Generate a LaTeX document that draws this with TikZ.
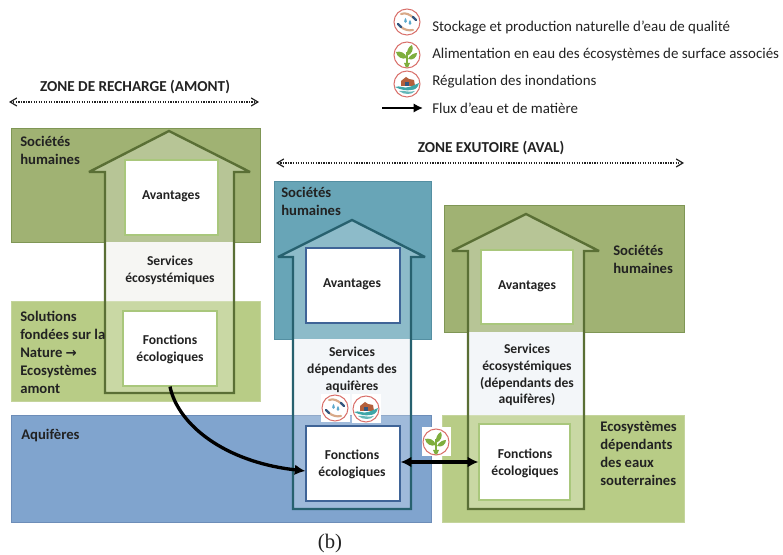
\documentclass[tikz,border=0pt]{standalone}
\usepackage{fontspec}
\setmainfont{Carlito}
\usetikzlibrary{fit,arrows.meta,calc}
\definecolor{gsoc}{HTML}{A0B273}
\definecolor{gsocl}{HTML}{7F9655}
\definecolor{gsol}{HTML}{B8CC86}
\definecolor{gsoll}{HTML}{C4D49C}
\definecolor{blu}{HTML}{80A4CE}
\definecolor{blul}{HTML}{6D8DB8}
\definecolor{tea}{HTML}{68A5B7}
\definecolor{teal2}{HTML}{548FA2}
\definecolor{gdk}{HTML}{5A6F35}
\definecolor{tdk}{HTML}{27616F}
\definecolor{bdk}{HTML}{3F6497}
\definecolor{gbx}{HTML}{A9C77C}
\definecolor{ink}{HTML}{222222}
\definecolor{icred}{HTML}{D9706B}
\definecolor{ictan}{HTML}{D8A988}
\definecolor{icnavy}{HTML}{35577F}
\definecolor{icblue}{HTML}{5CA9CC}
\definecolor{icleaf}{HTML}{7FAE3E}
\definecolor{icbrown}{HTML}{B4603C}
\definecolor{icwave}{HTML}{3FA6A8}
\definecolor{bandA}{HTML}{F3F4EF}
\definecolor{bandB}{HTML}{EFF4F8}
\tikzset{
  x=0.75pt,y=-0.75pt,
  zone/.style={fit={#1},inner sep=0pt,draw,line width=0.7pt},
  soc/.style={fill=gsoc,draw=gsocl},
  sol/.style={fill=gsol,draw=gsoll},
  aqu/.style={fill=blu,draw=blul},
  tealz/.style={fill=tea,draw=teal2},
  whitebox/.style={fit={#1},inner sep=0pt,fill=white,line width=.9pt,draw},
  band/.style={draw=none},
  housearrow/.style={fill=white,fill opacity=0.25,line width=1.8pt,line join=miter,miter limit=4},
  lbl/.style={font=\fontsize{10.2}{12.6}\selectfont\bfseries,text=ink,align=center,inner sep=0pt,yshift=-.8pt},
  lbll/.style={font=\fontsize{11}{13.5}\selectfont\bfseries,text=ink,align=left,inner sep=0pt,anchor=north west,yshift=-1pt},
  legendtxt/.style={font=\fontsize{11.2}{12}\selectfont,text=ink,anchor=west,inner sep=0pt,yshift=-.5pt},
  zonetxt/.style={font=\fontsize{11.4}{12}\selectfont\bfseries,text=ink,inner sep=0pt},
  zonearrow/.style={{Straight Barb[length=5pt,width=6pt,line width=.9pt]}-{Straight Barb[length=5pt,width=6pt,line width=.9pt]},densely dotted,line width=.9pt,draw=ink},
  flow/.style={-{Latex[length=8pt,width=8pt]},line width=2.5pt,black},
  flowb/.style={{Latex[length=8pt,width=8pt]}-{Latex[length=8pt,width=8pt]},line width=2.5pt,black},
  ring/.style={draw=icred,line width=.75pt,fill=white},
  pics/icwater/.style={code={
    \fill[white] (-14.5,-13.5) rectangle (14.5,14.5);
    \draw[ring] (0,0) circle (13);
    \draw[ictan,line width=1.6pt,line cap=round] (-6,-8) .. controls (-1,-10) and (3,-7) .. (7,-4);
    \draw[ictan,line width=1.6pt,line cap=round] (-7,4) .. controls (-3,8) and (2,9) .. (6,8);
    \draw[icnavy,line width=1.8pt,line cap=round] (6,-5) -- (9,-2);
    \draw[icnavy,line width=1.8pt,line cap=round] (-9,2) -- (-6,5);
    \fill[icblue] (-1.5,-4) .. controls (-3.5,-1) and (-3,1) .. (-1.5,1) .. controls (0,1) and (.5,-1) .. (-1.5,-4);
    \fill[icblue] (3,-2) .. controls (1,1) and (1.5,3) .. (3,3) .. controls (4.5,3) and (5,1) .. (3,-2);
  }},
  pics/icleafp/.style={code={
    \fill[white] (-14.5,-14.5) rectangle (14.5,14.5);
    \draw[ring] (0,0) circle (13);
    \draw[icleaf,line width=1.2pt] (0,11) -- (0,-3);
    \fill[icleaf] (-3,8) -- (3,8) -- (1,12.5) -- (-1,12.5) -- cycle;
    \fill[icleaf] (0,3) .. controls (-2,-3) and (-7,-4) .. (-11,-3) .. controls (-10,2) and (-5,5) .. (0,3);
    \fill[icleaf] (0,1) .. controls (-1,-4) and (2,-9) .. (5,-10) .. controls (7,-6) and (5,-1) .. (0,1);
    \fill[icleaf] (1,4) .. controls (3,0) and (7,-2) .. (10,-2) .. controls (10,2) and (6,6) .. (1,4);
  }},
  pics/icflood/.style={code={
    \fill[white] (-14.5,-14.5) rectangle (14.5,14.5);
    \draw[ring] (0,0) circle (13);
    \fill[icbrown] (-6,2) -- (-6,-3) -- (-1,-7) -- (2,-5) -- (7,-4) -- (8,2) -- cycle;
    \fill[icnavy] (-2,2) rectangle (2,-2);
    \fill[icwave] (-12,3) .. controls (-7,1) and (-3,5) .. (2,3) .. controls (6,2) and (9,0) .. (12,-1) .. controls (11,4) and (8,6) .. (4,6) .. controls (0,7) and (-6,6) .. (-12,3);
    \fill[icwave!80!white] (-8,7) .. controls (-3,6) and (2,9) .. (8,7) .. controls (5,11) and (-3,11) .. (-8,7);
  }},
}
\begin{document}
\begin{tikzpicture}
\useasboundingbox (0,0) rectangle (783,555);
\fill[white] (0,0) rectangle (783,555);

% zones
\node[zone={(11,128)(260,242)},soc] (socL) {};
\node[zone={(11,301)(260,401)},sol] (solL) {};
\node[zone={(11,415)(431,522)},aqu] (aquif) {};
\node[zone={(274,181)(431,339)},tealz] (socM) {};
\node[zone={(444,205)(684,332)},soc] (socR) {};
\node[zone={(442,415)(684,522)},sol] (ecoR) {};

% pale bands
\fill[band,fill=bandA] (105,242) rectangle (234,301);
\fill[band,fill=bandB] (293,339) rectangle (411,415);
\fill[band,fill=bandB] (468,332) rectangle (584,415);

% house arrows
\draw[housearrow,draw=gdk] (105,393) -- (105,172) -- (89,172) -- (169,131) -- (250,172) -- (234,172) -- (234,393) -- cycle;
\draw[housearrow,draw=tdk] (293,509) -- (293,257) -- (278,257) -- (352,220) -- (425,257) -- (411,257) -- (411,509) -- cycle;
\draw[housearrow,draw=gdk] (468,509) -- (468,251) -- (452,251) -- (526,214) -- (599,251) -- (584,251) -- (584,509) -- cycle;

% white boxes
\node[whitebox={(125,160)(218,235)},draw=gbx] (avL) {};
\node[whitebox={(123,311)(217,386)},draw=gbx] (foL) {};
\node[whitebox={(306,248)(400,323)},draw=bdk] (avM) {};
\node[whitebox={(306,426)(400,501)},draw=bdk] (foM) {};
\node[whitebox={(481,250)(573,324)},draw=gbx] (avR) {};
\node[whitebox={(479,424)(570,500)},draw=gbx] (foR) {};

% box texts
\node[lbl] (tAvL) at (171,195) {Avantages};
\node[lbl] (tFoL) at (170,348.5) {Fonctions\\écologiques};
\node[lbl] (tSeL) at (170,269.5) {Services\\écosystémiques};
\node[lbl] (tAvM) at (352,283) {Avantages};
\node[lbl] (tFoM) at (352,463) {Fonctions\\écologiques};
\node[lbl] (tSeM) at (352,368.5) {Services\\dépendants des\\aquifères};
\node[lbl] (tAvR) at (527,285) {Avantages};
\node[lbl] (tFoR) at (525,462.5) {Fonctions\\écologiques};
\node[lbl] (tSeR) at (527,374) {Services\\écosystémiques\\(dépendants des\\aquifères)};

% zone texts
\node[lbll] (nSocL) at (20,135) {Sociétés\\humaines};
\node[lbll] (nSol) at (20,310) {Solutions\\fondées sur la\\Nature {\fontspec{DejaVu Sans}\fontsize{10}{13.5}\selectfont→}\\Ecosystèmes\\amont};
\node[lbll] (nAqu) at (21,427.5) {Aquifères};
\node[lbll] (nSocM) at (281,186) {Sociétés\\humaines};
\node[lbll] (nSocR) at (613,243.5) {Sociétés\\humaines};
\node[lbll] (nEco) at (600,420) {Ecosystèmes\\dépendants\\des eaux\\souterraines};

% flows
\coordinate (y471) at (0,471);
\coordinate (y462) at (0,462);
\draw[flow] (foL.south) .. controls (178,425) and (225,462) .. (foM.west |- y471);
\draw[flowb] (foM.east |- y462) -- (foR.west |- y462);

% zone arrows
\coordinate (zl1) at (9,102); \coordinate (zl2) at (259,102);
\coordinate (zr1) at (276,163); \coordinate (zr2) at (684,163);
\draw[zonearrow] (zl1) -- (zl2);
\draw[zonearrow] (zr1) -- (zr2);
\node[zonetxt] (zL) at (135,87) {ZONE DE RECHARGE (AMONT)};
\node[zonetxt] (zR) at (491,148.5) {ZONE EXUTOIRE (AVAL)};

% icons on diagram
\pic at (335,408) {icwater};
\pic at (366,409) {icflood};
\pic at (436,442) {icleafp};

% legend
\pic at (407,22) {icwater};
\pic at (407,55) {icleafp};
\pic at (407,84) {icflood};
\coordinate (lgA) at (382,108);
\coordinate (lgB) at (423,108);
\node[legendtxt] (lg1) at (432,27) {Stockage et production naturelle d’eau de qualité};
\node[legendtxt] (lg2) at (432,54) {Alimentation en eau des écosystèmes de surface associés};
\node[legendtxt] (lg3) at (432,81) {Régulation des inondations};
\node[legendtxt] (lg4) at (432,108) {Flux d’eau et de matière};
\draw[-{Latex[length=7pt,width=7pt]},line width=2.2pt,black] (lgA) -- (lgB);

\node[font=\fontspec{Liberation Serif}\fontsize{15.5}{16}\selectfont,inner sep=0pt,text=ink] (cap) at (330,543.5) {(b)};
\end{tikzpicture}
\end{document}
